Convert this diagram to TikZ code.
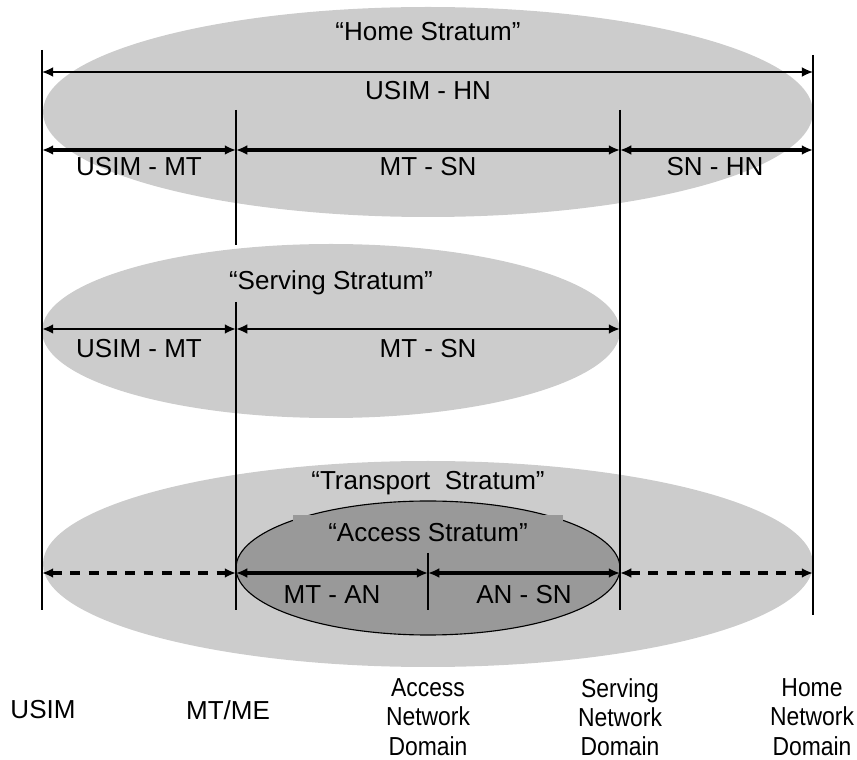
\documentclass[tikz,border=0pt]{standalone}
\usepackage{fontspec}
\setmainfont{Liberation Sans}
\newfontfamily\narrowfont[FakeStretch=0.88]{Liberation Sans}
\usetikzlibrary{arrows.meta}
\definecolor{stratumgray}{gray}{0.8}
\definecolor{accessgray}{gray}{0.6}
\tikzset{
  lbl/.style={font=\fontsize{18.5}{21.5}\selectfont, inner sep=0pt},
  domlbl/.style={font=\narrowfont\fontsize{18.5}{20.8}\selectfont, inner sep=0pt, align=center},
  span/.style={{Latex[length=8pt,width=7pt]}-{Latex[length=8pt,width=7pt]}},
  vline/.style={line width=1.2pt},
}
\begin{document}
\begin{tikzpicture}[x=0.025cm, y=-0.025cm]
\useasboundingbox (0,0) rectangle (857,760);
% strata
\fill[stratumgray] (428,112) ellipse [x radius=385, y radius=105];
\fill[stratumgray] (331,331) ellipse [x radius=289, y radius=87];
\fill[stratumgray] (428,564) ellipse [x radius=385, y radius=103];
\filldraw[fill=accessgray, draw=black, line width=0.8pt] (428,568) ellipse [x radius=192, y radius=67];
\node[lbl, fill=accessgray, minimum width=6.725cm, minimum height=0.9cm] (access) at (428,533) {“Access Stratum”};
% domains and rows
\coordinate (usim) at (42,0);
\coordinate (mt) at (236,0);
\coordinate (an) at (428,0);
\coordinate (sn) at (620,0);
\coordinate (hn) at (813,0);
\coordinate (ra) at (0,72);
\coordinate (rb) at (0,150);
\coordinate (rc) at (0,329);
\coordinate (rd) at (0,573);
\draw[vline] (usim |- 0,50) -- (usim |- 0,610);
\draw[vline] (mt |- 0,110) -- (mt |- 0,245);
\draw[vline] (mt |- 0,302) -- (mt |- 0,610);
\draw[vline] (an |- 0,553) -- (an |- 0,610);
\draw[vline] (sn |- 0,110) -- (sn |- 0,610);
\draw[vline] (hn |- 0,55) -- (hn |- 0,615);
% home stratum
\draw[span, line width=1pt] (usim |- ra) -- (hn |- ra);
\draw[span, line width=2.5pt] (usim |- rb) -- (mt |- rb);
\draw[span, line width=2.5pt] (mt |- rb) -- (sn |- rb);
\draw[span, line width=2.5pt] (sn |- rb) -- (hn |- rb);
% serving stratum
\draw[span, line width=2pt] (usim |- rc) -- (mt |- rc);
\draw[span, line width=2pt] (mt |- rc) -- (sn |- rc);
% transport stratum
\draw[span, line width=2.5pt, dash pattern=on 7pt off 6pt] (usim |- rd) -- (mt |- rd);
\draw[span, line width=2.5pt] (mt |- rd) -- (an |- rd);
\draw[span, line width=2.5pt] (an |- rd) -- (sn |- rd);
\draw[span, line width=2.5pt, dash pattern=on 7pt off 6pt] (sn |- rd) -- (hn |- rd);
% labels
\node[lbl] (home) at (428,32) {“Home Stratum”};
\node[lbl] (usimhn) at (428,91) {USIM - HN};
\node[lbl] (usimmta) at (139,167) {USIM - MT};
\node[lbl] (mtsna) at (428,167) {MT - SN};
\node[lbl] (snhn) at (715,167) {SN - HN};
\node[lbl] (serving) at (331,283) {“Serving Stratum”};
\node[lbl] (usimmtb) at (139,349) {USIM - MT};
\node[lbl] (mtsnb) at (428,349) {MT - SN};
\node[lbl] (transport) at (428,483) {“Transport\ \ Stratum”};
\node[lbl] (mtan) at (332,595) {MT - AN};
\node[lbl] (ansn) at (524,595) {AN - SN};
\node[lbl] (usimdom) at (43,710) {USIM};
\node[lbl] (mtdom) at (228,710) {MT/ME};
\node[domlbl] (andom) at (428,717) {Access\\Network\\Domain};
\node[domlbl] (sndom) at (620,717) {Serving\\Network\\Domain};
\node[domlbl] (hndom) at (812,717) {Home\\Network\\Domain};
\end{tikzpicture}
\end{document}
